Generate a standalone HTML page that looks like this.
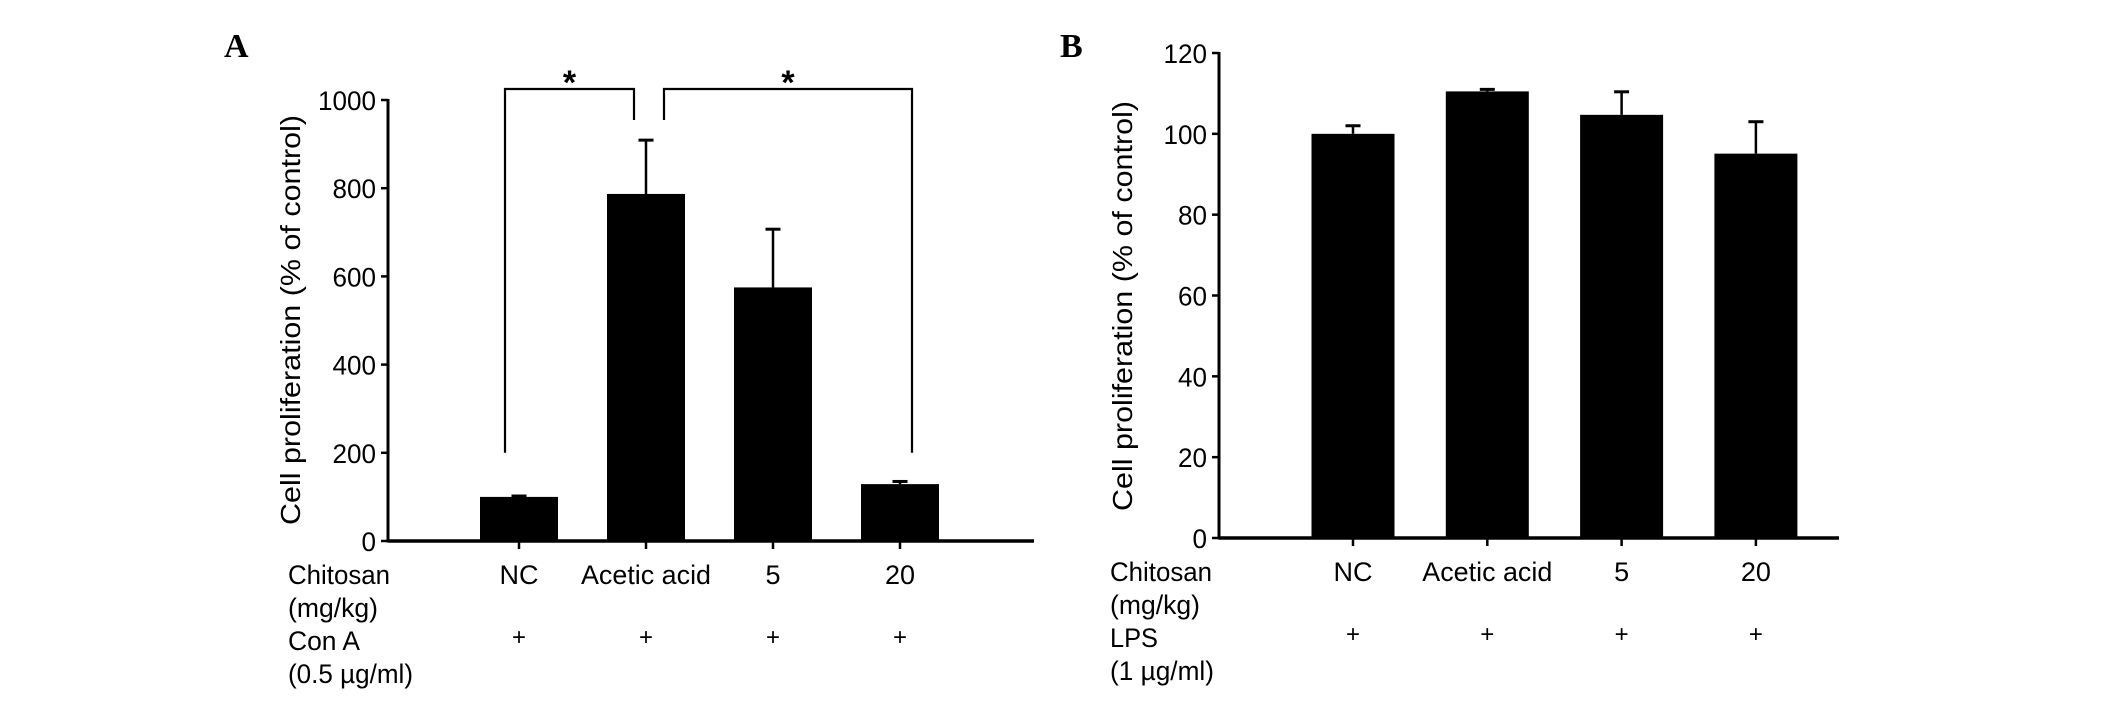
<!DOCTYPE html>
<html><head><meta charset="utf-8"><style>
html,body{margin:0;padding:0;background:#fff;}
svg{display:block;}
text{font-family:"Liberation Sans",sans-serif;fill:#000;}
</style></head><body>
<svg id="fig" width="2126" height="705" viewBox="0 0 2126 705" xmlns="http://www.w3.org/2000/svg">
<rect width="2126" height="705" fill="#fff"/>
<text x="224" y="57" style="font-family:'Liberation Serif',serif;font-weight:bold;font-size:34px">A</text>
<text x="1060" y="57" style="font-family:'Liberation Serif',serif;font-weight:bold;font-size:34px">B</text>
<g id="chartA"></g>
<g id="chartB"></g>
</svg>
<script>
const categories = ["NC","Acetic acid","5","20"];
const valuesA = [100, 787, 575, 129];
const errorsA = [102, 909, 707, 135];
const ticksA = [0,200,400,600,800,1000];
const valuesB = [100, 110.5, 104.7, 95.1];
const errorsB = [102, 111, 110.4, 103];
const ticksB = [0,20,40,60,80,100,120];
const sigPairsA = [[0,1,200,"*"],[1,3,200,"*"]];

const NS = "http://www.w3.org/2000/svg";
function mk(parent, tag, attrs, txt){
  const e = document.createElementNS(NS, tag);
  for (const k in attrs) e.setAttribute(k, attrs[k]);
  if (txt !== undefined) e.textContent = txt;
  parent.appendChild(e);
  return e;
}

function drawChart(g, cfg){
  const yS = v => cfg.y0 - (v - 0) / cfg.ymax * (cfg.y0 - cfg.ytop);
  const xS = i => cfg.xc0 + i * cfg.step;
  cfg.values.forEach((v,i)=>{
    const cx = xS(i);
    const err = mk(g,'line',{x1:cx,x2:cx,y1:yS(cfg.errors[i]),y2:yS(v),stroke:'#000','stroke-width':2.5});
    
    
    const cap = mk(g,'line',{x1:cx-7.5,x2:cx+7.5,y1:yS(cfg.errors[i]),y2:yS(cfg.errors[i]),stroke:'#000','stroke-width':3});
    
    
    const r = mk(g,'rect',{x:cx-cfg.bw/2,y:yS(v),width:cfg.bw,height:cfg.y0-yS(v),fill:'#000'});
    
    
    const tk = mk(g,'line',{x1:cx,x2:cx,y1:cfg.y0,y2:cfg.y0+8,stroke:'#000','stroke-width':2.5});
    
    
    const la = {x:cx,y:cfg.y0+43,'text-anchor':'middle','font-size':27};
    if (categories[i].length > 4) { la.textLength = 130; la.lengthAdjust = 'spacingAndGlyphs'; }
    const lb = mk(g,'text',la,categories[i]);
    
    
    const pl = mk(g,'text',{x:cx,y:cfg.y0+104,'text-anchor':'middle','font-size':24},'+');
    
    
  });
  const ya = mk(g,'line',{x1:cfg.ax,x2:cfg.ax,y1:cfg.ytop-1,y2:cfg.y0+1.5,stroke:'#000','stroke-width':3});
  
  
  const xa = mk(g,'line',{x1:cfg.ax,x2:cfg.xend,y1:cfg.y0,y2:cfg.y0,stroke:'#000','stroke-width':3.5});
  
  
  cfg.ticks.forEach(t=>{
    const y = yS(t);
    const tl = mk(g,'line',{x1:cfg.ax-7,x2:cfg.ax,y1:y,y2:y,stroke:'#000','stroke-width':2.5});
    
    
    const s = String(t);
    const tx = mk(g,'text',{x:cfg.ax-12,y:y+10,'text-anchor':'end','font-size':27,textLength:s.length*14.5,lengthAdjust:'spacingAndGlyphs'},s);
    
    
  });
  const yt = mk(g,'text',{x:0,y:0,'text-anchor':'middle','font-size':28,transform:`translate(${cfg.titleX},${cfg.titleY}) rotate(-90)`,textLength:410,lengthAdjust:'spacingAndGlyphs'},'Cell proliferation (% of control)');
  
  
  const rows = [["Chitosan",43,102],["(mg/kg)",76,90],[cfg.stim,109,cfg.stimW],[cfg.conc,142,cfg.concW]];
  rows.forEach((r,k)=>{
    const e = mk(g,'text',{x:cfg.rowX,y:cfg.y0+r[1],'font-size':27,textLength:r[2],lengthAdjust:'spacingAndGlyphs'},r[0]);
    
    
  });
  return {xS,yS};
}

const A = drawChart(document.getElementById('chartA'),{
  ax:388,xend:1034,y0:541,ytop:100,ymax:1000,xc0:519,step:127,bw:78,
  values:valuesA,errors:errorsA,ticks:ticksA,titleX:300,titleY:320,rowX:288,
  stim:'Con A',stimW:72,conc:'(0.5 \u00b5g/ml)',concW:125
});
const gA = document.getElementById('chartA');
sigPairsA.forEach((p,k)=>{
  const xl = A.xS(p[0]) + (k===0?-14:18);
  const xr = A.xS(p[1]) + (k===0?-12:12);
  const top = 89;
  const yl = k===0 ? A.yS(p[2]) : 120;
  const yr = k===0 ? 120 : A.yS(p[2]);
  const br = mk(gA,'polyline',{points:`${xl},${yl} ${xl},${top} ${xr},${top} ${xr},${yr}`,fill:'none',stroke:'#000','stroke-width':2.2});
  
  
  const st = mk(gA,'text',{x:(xl+xr)/2,y:top+5,'text-anchor':'middle','font-size':34,'font-weight':'bold'},p[3]);
  
  
});

drawChart(document.getElementById('chartB'),{
  ax:1219,xend:1839,y0:538,ytop:53,ymax:120,xc0:1353,step:134.3,bw:83,
  values:valuesB,errors:errorsB,ticks:ticksB,titleX:1132,titleY:306,rowX:1110,
  stim:'LPS',stimW:48,conc:'(1 \u00b5g/ml)',concW:104
});
</script>
</body></html>
